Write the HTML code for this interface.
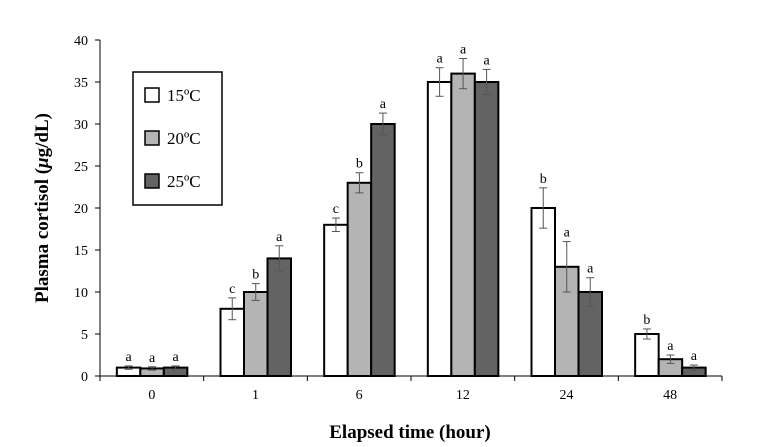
<!DOCTYPE html>
<html><head><meta charset="utf-8"><style>body{margin:0;background:#fff}svg{display:block;font-family:"Liberation Serif",serif}</style></head>
<body>
<svg id="c" width="762" height="447"></svg>
<script>
const categories=["0","1","6","12","24","48"];
const series15=[1,8,18,35,20,5];
const series20=[0.9,10,23,36,13,2];
const series25=[1,14,30,35,10,1];
const err15=[0.2,1.3,0.8,1.7,2.4,0.6];
const err20=[0.2,1.0,1.2,1.8,3.0,0.5];
const err25=[0.2,1.5,1.3,1.5,1.7,0.3];
const letters15=["a","c","c","a","b","b"];
const letters20=["a","b","b","a","a","a"];
const letters25=["a","a","a","a","a","a"];
const yTicks=[0,5,10,15,20,25,30,35,40];
const seriesNames=["15ºC","20ºC","25ºC"];
const svg=document.getElementById('c');const NS="http://www.w3.org/2000/svg";
function mk(t,a,txt){const e=document.createElementNS(NS,t);for(const k in a)e.setAttribute(k,a[k]);if(txt!==undefined)e.textContent=txt;svg.appendChild(e);return e;}
const x0=100,x1=722,yb=376,yt=40;
const y=v=>yb-(v/40)*(yb-yt);
const gw=(x1-x0)/categories.length;
const cx=i=>x0+gw*(i+0.5);
const bw=23.5;
let e=mk('line',{x1:x0,y1:yt,x2:x0,y2:yb,stroke:'#000','stroke-width':1});

e=mk('line',{x1:x0,y1:yb,x2:x1,y2:yb,stroke:'#000','stroke-width':1});

yTicks.forEach(t=>{mk('line',{x1:x0-5,y1:y(t),x2:x0,y2:y(t),stroke:'#000'});
e=mk('text',{x:x0-12,y:y(t)+5,'text-anchor':'end','font-size':14},t);
});
for(let i=0;i<=categories.length;i++)mk('line',{x1:x0+gw*i,y1:yb,x2:x0+gw*i,y2:yb+5,stroke:'#000'});
const fills=['#fff','#b4b4b4','#636363'];
const vals=[series15,series20,series25],errs=[err15,err20,err25],lets=[letters15,letters20,letters25];
categories.forEach((c,i)=>{
 e=mk('text',{x:cx(i),y:yb+23,'text-anchor':'middle','font-size':14},c);
 
 for(let s=0;s<3;s++){const v=vals[s][i],bx=cx(i)-35+s*bw;
  e=mk('rect',{x:bx,y:y(v),width:bw,height:yb-y(v),fill:fills[s],stroke:'#000','stroke-width':2});
  
  const m=bx+bw/2,hi=y(v+errs[s][i]),lo=y(v-errs[s][i]);
  mk('line',{x1:m,y1:hi,x2:m,y2:lo,stroke:'#555'});
  mk('line',{x1:m-4,y1:hi,x2:m+4,y2:hi,stroke:'#555'});
  mk('line',{x1:m-4,y1:lo,x2:m+4,y2:lo,stroke:'#555'});
  e=mk('text',{x:m,y:hi-5,'text-anchor':'middle','font-size':14},lets[s][i]);
  }
});
e=mk('text',{x:410,y:438,'text-anchor':'middle','font-size':19,'font-weight':'bold'},'Elapsed time (hour)');

e=mk('text',{transform:'translate(48,208) rotate(-90)','text-anchor':'middle','font-size':19,'font-weight':'bold'});
e.innerHTML='Plasma cortisol (<tspan font-style="italic">μ</tspan>g/dL)';

e=mk('rect',{x:133,y:72,width:89,height:133,fill:'#fff',stroke:'#000','stroke-width':1.5});

seriesNames.forEach((n,s)=>{const ly=88+s*43;
 e=mk('rect',{x:145,y:ly,width:14,height:14,fill:fills[s],stroke:'#000','stroke-width':1.5});
 
 e=mk('text',{x:167,y:ly+13,'font-size':17},n);
 });
</script>
</body></html>
